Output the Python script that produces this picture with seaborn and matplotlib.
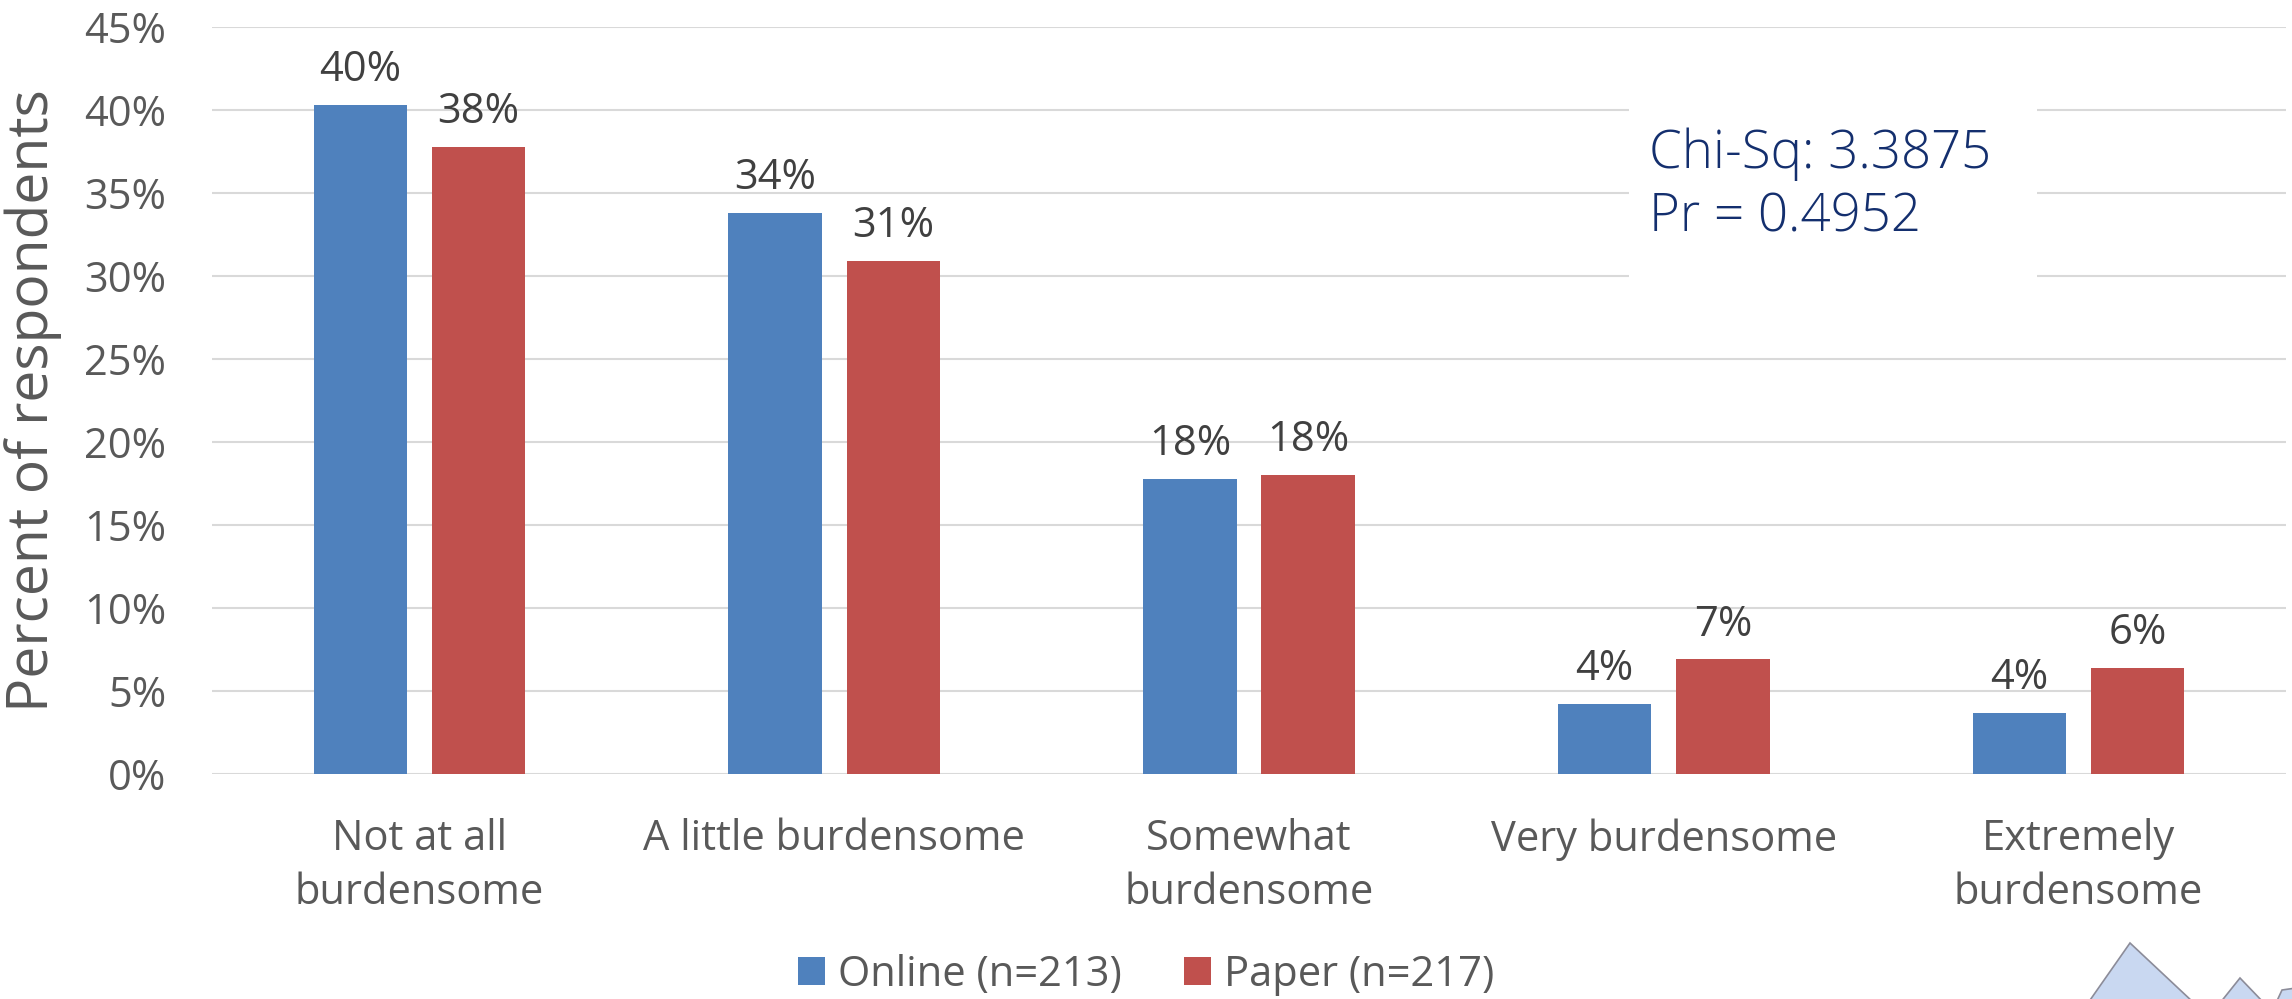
import matplotlib
matplotlib.use("Agg")
import matplotlib.pyplot as plt
from matplotlib.patches import Rectangle, Polygon, Patch
import seaborn as sns
import pandas as pd

# ---- data ----
categories = ["Not at all\nburdensome", "A little burdensome", "Somewhat\nburdensome",
              "Very burdensome", "Extremely\nburdensome"]
series_names = ["Online (n=213)", "Paper (n=217)"]
online = [40.3, 33.8, 17.8, 4.2, 3.7]
paper = [37.8, 30.9, 18.0, 6.9, 6.4]
y_ticks = [0, 5, 10, 15, 20, 25, 30, 35, 40, 45]
y_label = "Percent of respondents"
stats_lines = ["Chi-Sq: 3.3875", "Pr = 0.4952"]

colors = ["#4F81BD", "#C0504D"]

df = pd.DataFrame({
    "category": categories * 2,
    "series": [series_names[0]] * len(categories) + [series_names[1]] * len(categories),
    "value": online + paper,
})

sns.set_theme(style="whitegrid")
plt.rcParams["font.family"] = ["Open Sans", "DejaVu Sans"]

W, H = 2292, 999
fig = plt.figure(figsize=(W / 100, H / 100), dpi=100)
ax_left, ax_right, ax_bottom, ax_top = 212, 2286, 774, 27
ax = fig.add_axes([ax_left / W, 1 - ax_bottom / H, (ax_right - ax_left) / W, (ax_bottom - ax_top) / H])

sns.barplot(data=df, x="category", y="value", hue="series", order=categories,
            hue_order=series_names, palette=colors, width=0.57, gap=0.21,
            linewidth=0, ax=ax, legend=False, saturation=1)

ax.set_xlim(-0.5, len(categories) - 0.5)
ax.set_ylim(0, 45)
ax.set_yticks(y_ticks)
ax.set_yticklabels([f"{t}%" for t in y_ticks])

ax.grid(axis="y", color="#D9D9D9", linewidth=1.5)
ax.grid(axis="x", visible=False)
for s in ax.spines.values():
    s.set_visible(False)
ax.set_axisbelow(True)

ax.tick_params(axis="y", labelsize=30, labelcolor="#595959", pad=33, length=0)
ax.tick_params(axis="x", labelsize=30, labelcolor="#595959", pad=32, length=0)
for lbl in ax.get_xticklabels():
    lbl.set_linespacing(1.36)

ax.set_xlabel("")
ax.set_ylabel(y_label, fontsize=41, color="#595959", labelpad=16)

for cont in ax.containers:
    ax.bar_label(cont, labels=[f"{v:.0f}%" for v in cont.datavalues],
                 padding=10, fontsize=30, color="#404040")

# stats box
ax.add_patch(Rectangle((0.683, 0.635), 0.197, 0.294, transform=ax.transAxes,
                       facecolor="white", edgecolor="none", zorder=1.2))
ax.text(0.693, 0.811, stats_lines[0], transform=ax.transAxes, fontsize=38,
        color="#142F6E", va="baseline", ha="left", fontweight="light", zorder=3)
ax.text(0.693, 0.7256, stats_lines[1], transform=ax.transAxes, fontsize=38,
        color="#142F6E", va="baseline", ha="left", fontweight="light", zorder=3)

# legend
handles = [Patch(facecolor=c, edgecolor="none") for c in colors]
leg = fig.legend(handles, series_names, loc="center", bbox_to_anchor=(0.5, 1 - 975 / H),
                 ncol=2, frameon=False, fontsize=30, handlelength=0.65, handleheight=0.65,
                 handletextpad=0.3, columnspacing=1.5)
for t in leg.get_texts():
    t.set_color("#595959")

# decorative triangles in the bottom-right corner
def px(pts):
    return [(x / W, 1 - y / H) for x, y in pts]

for pts in ([(2088, 1003), (2130, 943), (2194, 1003)],
            [(2220, 1003), (2240, 978), (2264, 1003)],
            [(2276, 1003), (2282, 990), (2296, 988), (2296, 1003)]):
    fig.add_artist(Polygon(px(pts), closed=True, transform=fig.transFigure,
                           facecolor="#C9D8F1", edgecolor="#8C8C99", linewidth=1.2))

fig.savefig("out.png", dpi=100)
